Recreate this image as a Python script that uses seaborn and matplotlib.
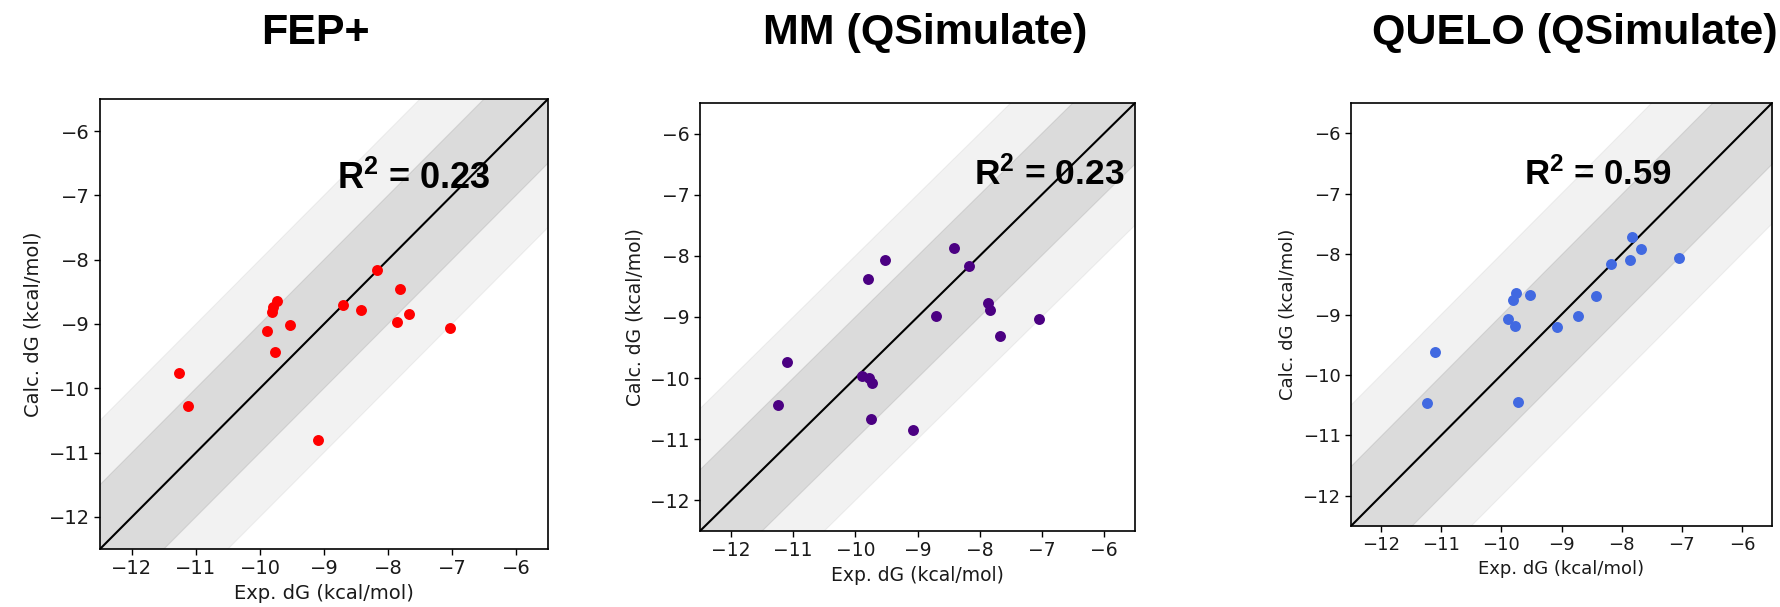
import numpy as np
import pandas as pd
import matplotlib
matplotlib.use("Agg")
import matplotlib.pyplot as plt
import seaborn as sns

# ---- data ----
titles = ["FEP+", "MM (QSimulate)", "QUELO (QSimulate)"]
r2_labels = ["0.23", "0.23", "0.59"]
colors = ["red", "indigo", "royalblue"]

fep_exp = [-11.26, -11.12, -9.89, -9.81, -9.79, -9.73, -9.76, -9.53,
           -9.09, -8.71, -8.42, -8.17, -7.86, -7.82, -7.67, -7.03]
fep_calc = [-9.77, -10.28, -9.11, -8.81, -8.73, -8.64, -9.44, -9.02,
            -10.80, -8.70, -8.79, -8.16, -8.97, -8.46, -8.84, -9.06]

mm_exp = [-11.24, -11.10, -9.89, -9.78, -9.73, -9.80, -9.75, -9.53,
          -9.08, -8.71, -8.42, -8.17, -7.86, -7.83, -7.67, -7.04]
mm_calc = [-10.44, -9.74, -9.96, -9.99, -10.08, -8.38, -10.67, -8.07,
           -10.85, -8.99, -7.87, -8.16, -8.77, -8.89, -9.31, -9.04]

quelo_exp = [-11.23, -11.11, -9.89, -9.80, -9.75, -9.78, -9.73, -9.53,
             -9.08, -8.72, -8.43, -8.18, -7.86, -7.83, -7.67, -7.04]
quelo_calc = [-10.47, -9.62, -9.07, -8.76, -8.65, -9.19, -10.44, -8.67,
              -9.21, -9.03, -8.69, -8.17, -8.09, -7.72, -7.92, -8.07]

ticks = [-12, -11, -10, -9, -8, -7, -6]
lim = (-12.5, -5.5)

datasets = [(fep_exp, fep_calc), (mm_exp, mm_calc), (quelo_exp, quelo_calc)]

# ---- layout (figure pixels) ----
W, H = 1780, 607
axes_px = [(100, 99, 548, 549), (700, 103, 1135, 531), (1351, 103, 1772, 526)]
tick_fs = [14, 13.5, 13]
r2_pos = [(-8.80, -6.90), (-8.09, -6.84), (-9.63, -6.86)]
r2_fs = [26, 25.5, 25]
title_x = [315, 925, 1575]

sns.set_style("ticks")
plt.rcParams['font.family'] = ['DejaVu Sans']
plt.rcParams['text.color'] = 'black'
plt.rcParams['mathtext.fontset'] = 'custom'
plt.rcParams['mathtext.rm'] = 'Liberation Sans'
plt.rcParams['mathtext.bf'] = 'Liberation Sans:bold'
plt.rcParams['mathtext.it'] = 'Liberation Sans:bold'

fig = plt.figure(figsize=(W / 100, H / 100), dpi=100)

for i, (ex, ca) in enumerate(datasets):
    l, t, r, b = axes_px[i]
    ax = fig.add_axes([l / W, (H - b) / H, (r - l) / W, (b - t) / H])
    xx = np.array([-13.0, -5.0])
    ax.fill_between(xx, xx - 2, xx + 2, color="gray", alpha=0.1, linewidth=0.8)
    ax.fill_between(xx, xx - 1, xx + 1, color="gray", alpha=0.2, linewidth=0.8)
    ax.plot(xx, xx, color="black", lw=1.5)
    df = pd.DataFrame({"exp": ex, "calc": ca})
    sns.scatterplot(data=df, x="exp", y="calc", ax=ax, color=colors[i],
                    s=62, linewidth=0, zorder=3)
    ax.set_xlim(lim)
    ax.set_ylim(lim)
    ax.set_xticks(ticks)
    ax.set_yticks(ticks)
    ax.set_xticklabels([f"\u2212{abs(v)}" for v in ticks])
    ax.set_yticklabels([f"\u2212{abs(v)}" for v in ticks])
    ax.tick_params(labelsize=tick_fs[i], length=4, width=1, color="black", labelcolor="#1a1a1a")
    for sp in ax.spines.values():
        sp.set_visible(True)
        sp.set_color("black")
        sp.set_linewidth(1.2)
    ax.set_xlabel("Exp. dG (kcal/mol)", fontsize=tick_fs[i], color="#1a1a1a")
    ax.set_ylabel("Calc. dG (kcal/mol)", fontsize=tick_fs[i], color="#1a1a1a")
    ax.text(r2_pos[i][0], r2_pos[i][1], r"$\mathbf{R^2}$ = " + r2_labels[i],
            fontsize=r2_fs[i], fontweight="bold", family="Liberation Sans",
            color="black", ha="left", va="baseline", zorder=4)
    fig.text(title_x[i] / W, (H - 44) / H, titles[i], fontsize=31,
             fontweight="bold", family="Liberation Sans", color="black",
             ha="center", va="baseline")

fig.savefig("out.png", dpi=100)
